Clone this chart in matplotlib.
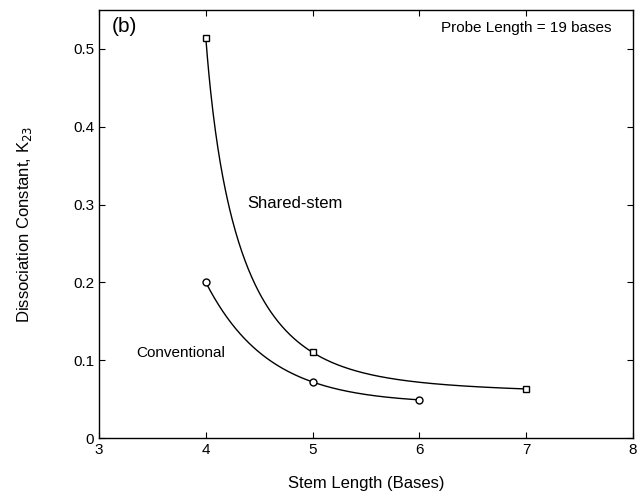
import numpy as np
import matplotlib.pyplot as plt

plt.rcParams['font.family'] = ['Liberation Sans', 'DejaVu Sans']

# stem lengths (bases) and dissociation constants
shared_x = [4, 5, 7]
shared_k = [0.514, 0.110, 0.063]
conv_x = [4, 5, 6]
conv_k = [0.200, 0.072, 0.049]

x_ticks = [3, 4, 5, 6, 7, 8]
y_ticks = [0, 0.1, 0.2, 0.3, 0.4, 0.5]
y_ticklabels = ['0', '0.1', '0.2', '0.3', '0.4', '0.5']


def rational_fit(x, y):
    # y = a + b / (x - c) through three points
    x0, x1, x2 = x
    y0, y1, y2 = y
    d1, d2 = x1 - x0, x2 - x0
    ratio = (y0 - y1) / (y1 - y2)
    u = d1 * d2 / (ratio * (d2 - d1) - d1)
    b = (y0 - y1) * u * (u + d1) / d1
    a = y0 - b / u
    return lambda t: a + b / (t - (x0 - u))


def exp_fit(x, y):
    # y = a + b * r**(x - x0) through three points (solved numerically)
    x0, x1, x2 = x
    y0, y1, y2 = y
    target = (y0 - y1) / (y1 - y2)
    rs = np.linspace(0.001, 0.999, 20000)
    val = (1 - rs ** (x1 - x0)) / (rs ** (x1 - x0) - rs ** (x2 - x0))
    r = rs[np.argmin(np.abs(val - target))]
    b = (y0 - y1) / (1 - r ** (x1 - x0))
    a = y0 - b
    return lambda t: a + b * r ** (t - x0)


f_rat = rational_fit(shared_x, shared_k)
f_exp = exp_fit(shared_x, shared_k)
f_conv = exp_fit(conv_x, conv_k)

fig = plt.figure(figsize=(6.41, 5.0), dpi=100)
ax = fig.add_axes([0.1545, 0.124, 0.833, 0.856])

xs = np.linspace(shared_x[0], shared_x[-1], 400)
ax.plot(xs, 0.5 * (f_rat(xs) + f_exp(xs)), color='black', lw=1.0)
xc = np.linspace(conv_x[0], conv_x[-1], 300)
ax.plot(xc, f_conv(xc), color='black', lw=1.0)

ax.plot(shared_x, shared_k, linestyle='none', marker='s', ms=5,
        mfc='white', mec='black', mew=1.0)
ax.plot(conv_x, conv_k, linestyle='none', marker='o', ms=5,
        mfc='white', mec='black', mew=1.0)

ax.set_xlim(3, 8)
ax.set_ylim(0, 0.55)
ax.set_xticks(x_ticks)
ax.set_yticks(y_ticks)
ax.set_yticklabels(y_ticklabels)
ax.tick_params(direction='in', top=True, right=True, length=4,
               labelsize=11, width=0.8)
for s in ax.spines.values():
    s.set_linewidth(1.0)

ax.set_xlabel('Stem Length (Bases)', fontsize=12, labelpad=14)
ax.set_ylabel('Dissociation Constant, K$_{23}$', fontsize=12, labelpad=28)

ax.text(3.12, 0.522, '(b)', fontsize=15)
ax.text(7.8, 0.522, 'Probe Length = 19 bases', fontsize=11, ha='right')
ax.text(4.39, 0.295, 'Shared-stem', fontsize=12)
ax.text(3.35, 0.104, 'Conventional', fontsize=11)

fig.savefig('out.png', dpi=100)
